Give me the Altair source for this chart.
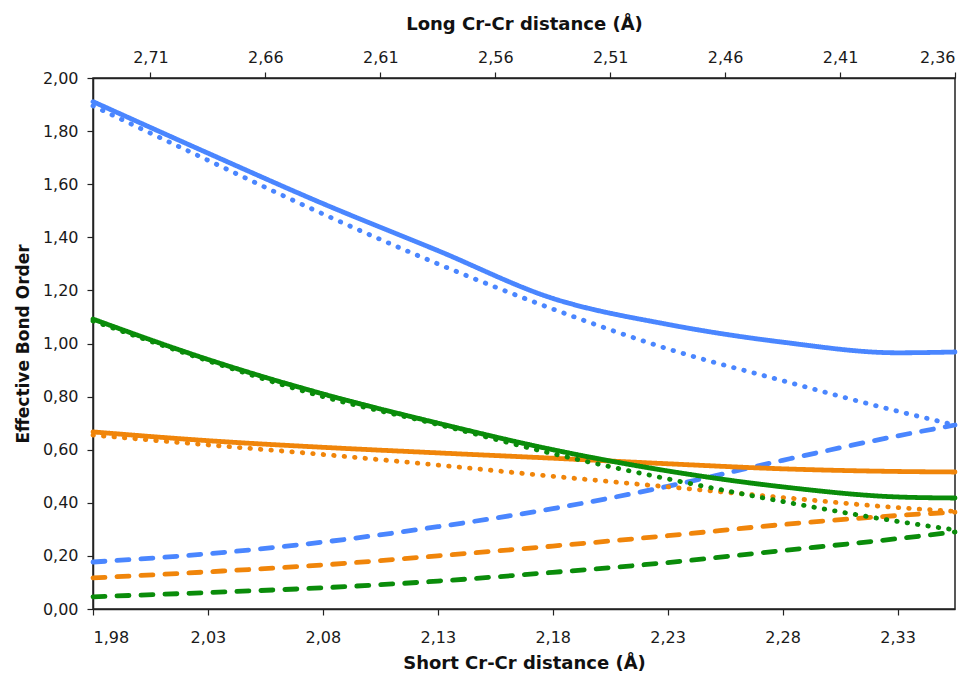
import altair as alt
import pandas as pd

# Short Cr-Cr distance sample positions (Å)
short_cr = [1.98, 2.03, 2.08, 2.13, 2.18, 2.23, 2.28, 2.33, 2.355]

blue_solid = [1.911, 1.717, 1.527, 1.350, 1.170, 1.072, 1.005, 0.965, 0.968]
blue_dotted = [1.895, 1.690, 1.488, 1.300, 1.130, 0.980, 0.860, 0.745, 0.693]
blue_dashed = [0.177, 0.208, 0.252, 0.310, 0.378, 0.462, 0.560, 0.652, 0.693]

orange_solid = [0.667, 0.634, 0.609, 0.588, 0.568, 0.547, 0.528, 0.518, 0.516]
orange_dotted = [0.655, 0.618, 0.582, 0.542, 0.500, 0.460, 0.420, 0.382, 0.368]
orange_dashed = [0.117, 0.140, 0.166, 0.200, 0.237, 0.276, 0.318, 0.352, 0.365]

green_solid = [1.092, 0.940, 0.810, 0.700, 0.600, 0.520, 0.460, 0.422, 0.418]
green_dotted = [1.085, 0.935, 0.800, 0.695, 0.585, 0.490, 0.405, 0.330, 0.298]
green_dashed = [0.046, 0.062, 0.080, 0.105, 0.138, 0.175, 0.220, 0.265, 0.290]

bottom_ticks = [1.98, 2.03, 2.08, 2.13, 2.18, 2.23, 2.28, 2.33]
top_ticks = [2.71, 2.66, 2.61, 2.56, 2.51, 2.46, 2.41, 2.36]
long_domain = [2.36, 2.735]
y_ticks = [0.0, 0.2, 0.4, 0.6, 0.8, 1.0, 1.2, 1.4, 1.6, 1.8, 2.0]

series = {
    ("blue", "solid"): blue_solid,
    ("blue", "dotted"): blue_dotted,
    ("blue", "dashed"): blue_dashed,
    ("orange", "solid"): orange_solid,
    ("orange", "dotted"): orange_dotted,
    ("orange", "dashed"): orange_dashed,
    ("green", "solid"): green_solid,
    ("green", "dotted"): green_dotted,
    ("green", "dashed"): green_dashed,
}

rows = []
for (col, sty), vals in series.items():
    for x, v in zip(short_cr, vals):
        rows.append({"short": x, "value": v, "grp": col, "style": sty, "series": col + "-" + sty})
df = pd.DataFrame(rows)

comma_fmt = "replace(format(datum.value, '.2f'), '.', ',')"
FONT = "DejaVu Sans"

lines = alt.Chart(df).mark_line(
    strokeWidth=4.8, strokeCap="round", interpolate="monotone"
).encode(
    x=alt.X("short:Q",
            scale=alt.Scale(domain=[1.98, 2.355], nice=False, zero=False),
            axis=alt.Axis(orient="bottom", values=bottom_ticks, labelExpr=comma_fmt,
                          title="Short Cr-Cr distance (Å)", labelPadding=14,
                          titlePadding=9)),
    y=alt.Y("value:Q",
            scale=alt.Scale(domain=[0, 2], nice=False),
            axis=alt.Axis(values=y_ticks, labelExpr=comma_fmt,
                          title="Effective Bond Order", labelPadding=9,
                          titlePadding=10, titleFontSize=17)),
    color=alt.Color("grp:N", scale=alt.Scale(domain=["blue", "orange", "green"],
                                             range=["#4A86FF", "#F0850A", "#0A8C0A"]),
                    legend=None),
    strokeDash=alt.StrokeDash("style:N",
                              scale=alt.Scale(domain=["solid", "dotted", "dashed"],
                                              range=[[1, 0], [0.5, 10], [12, 12]]),
                              legend=None),
    detail="series:N",
)

top_df = pd.DataFrame({"long": long_domain})
top = alt.Chart(top_df).mark_point(opacity=0).encode(
    x=alt.X("long:Q",
            scale=alt.Scale(domain=long_domain, reverse=True, nice=False, zero=False),
            axis=alt.Axis(orient="top", values=top_ticks, labelExpr=comma_fmt,
                          title="Long Cr-Cr distance (Å)", labelPadding=7,
                          titlePadding=16)),
)

chart = alt.layer(lines, top).resolve_scale(x="independent").properties(
    width=862, height=531,
    padding={"left": 85, "top": 70, "right": 13, "bottom": 64},
    autosize=alt.AutoSizeParams(type="none"),
).configure_view(
    stroke="#222222", strokeWidth=1.5
).configure_axis(
    grid=False,
    domainColor="#222222", domainWidth=1.5,
    tickColor="#222222", tickWidth=1.2, tickSize=6,
    labelFont=FONT, labelFontSize=16, labelColor="#1a1a1a",
    titleFont=FONT, titleFontSize=18, titleFontWeight="bold", titleColor="#111111",
)

chart.save("out.html", embed_options={"renderer": "svg", "actions": False})
